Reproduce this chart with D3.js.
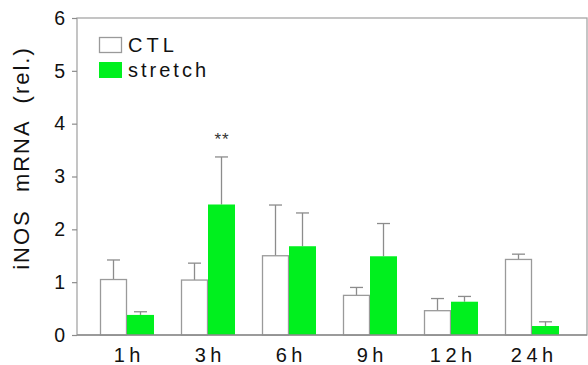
<!DOCTYPE html>
<html>
<head>
<meta charset="utf-8">
<script src="https://cdn.jsdelivr.net/npm/d3@7"></script>
<style>
  html, body { margin: 0; padding: 0; background: #fff; }
  svg { display: block; font-family: "Liberation Sans", Arial, sans-serif; }
</style>
</head>
<body>
<svg id="chart" width="588" height="365"></svg>
<script>
// Time points after stretch onset
const timepoints = ["1h", "3h", "6h", "9h", "12h", "24h"];
const seriesNames = ["CTL", "stretch"];
// Relative iNOS mRNA (mean) and upper error (mean + SE)
const ctlMean = [1.05, 1.04, 1.50, 0.75, 0.46, 1.43];
const ctlUpper = [1.42, 1.36, 2.46, 0.90, 0.69, 1.53];
const stretchMean = [0.38, 2.47, 1.68, 1.49, 0.63, 0.17];
const stretchUpper = [0.44, 3.37, 2.31, 2.11, 0.73, 0.25];
const yTicks = [0, 1, 2, 3, 4, 5, 6];
const significance = [
  { time: "3h", series: "stretch", label: "**" }
];

const colors = { CTL: "#ffffff", stretch: "#00f01e" };
const grey = "#8c8c8c";

const svg = d3.select("#chart");
const plot = { left: 77, right: 587, top: 18, bottom: 335 };

const y = d3.scaleLinear().domain([0, 6]).range([plot.bottom, plot.top]);
const x = d3.scaleBand().domain(timepoints)
  .range([86.5, 572.5]).paddingInner(1 / 3).paddingOuter(1 / 6);
const xSub = d3.scaleBand().domain(seriesNames).range([0, x.bandwidth()]);

const rows = [];
timepoints.forEach((t, i) => {
  rows.push({ time: t, series: "CTL", mean: ctlMean[i], upper: ctlUpper[i] });
  rows.push({ time: t, series: "stretch", mean: stretchMean[i], upper: stretchUpper[i] });
});

// Frame
svg.append("rect")
  .attr("x", plot.left).attr("y", plot.top)
  .attr("width", plot.right - plot.left).attr("height", plot.bottom - plot.top)
  .attr("fill", "none").attr("stroke", "#a6a6a6").attr("stroke-width", 1.3);

// Error bars (upper only), drawn behind the bars
const capHalf = 6.5;
const err = svg.append("g").attr("stroke", grey).attr("stroke-width", 1.3);
rows.forEach(d => {
  const cx = x(d.time) + xSub(d.series) + xSub.bandwidth() / 2;
  err.append("line").attr("x1", cx).attr("x2", cx)
    .attr("y1", y(d.mean)).attr("y2", y(d.upper));
  err.append("line").attr("x1", cx - capHalf).attr("x2", cx + capHalf)
    .attr("y1", y(d.upper)).attr("y2", y(d.upper));
});

// Bars
svg.append("g").selectAll("rect").data(rows).join("rect")
  .attr("x", d => x(d.time) + xSub(d.series) + (d.series === "CTL" ? 0.5 : 0))
  .attr("y", d => y(d.mean))
  .attr("width", d => xSub.bandwidth() - (d.series === "CTL" ? 1 : 0))
  .attr("height", d => y(0) - y(d.mean))
  .attr("fill", d => colors[d.series])
  .attr("stroke", d => d.series === "CTL" ? "#9a9a9a" : "none")
  .attr("stroke-width", 1.3);

// Bottom baseline redrawn over bars
svg.append("line")
  .attr("x1", plot.left).attr("x2", plot.right)
  .attr("y1", y(0)).attr("y2", y(0))
  .attr("stroke", grey).attr("stroke-width", 1.3);

// Significance markers
significance.forEach(s => {
  const i = timepoints.indexOf(s.time);
  const up = s.series === "CTL" ? ctlUpper[i] : stretchUpper[i];
  svg.append("text")
    .attr("x", x(s.time) + xSub(s.series) + xSub.bandwidth() / 2)
    .attr("y", y(up) - 12)
    .attr("text-anchor", "middle")
    .attr("font-size", 17).attr("fill", "#333")
    .attr("letter-spacing", 1).attr("dx", 0.5)
    .text(s.label);
});

// Y axis
const yAxis = svg.append("g")
  .attr("transform", `translate(${plot.left},0)`)
  .call(d3.axisLeft(y).tickValues(yTicks).tickFormat(d3.format("d")).tickSize(5).tickPadding(7));
yAxis.select(".domain").remove();
yAxis.selectAll(".tick line").attr("stroke", grey).attr("stroke-width", 1.2);
yAxis.selectAll(".tick text")
  .attr("font-size", 19.5).attr("fill", "#111")
  .attr("font-family", "'Liberation Sans', Arial, sans-serif");

// X axis labels
const xAxis = svg.append("g")
  .attr("transform", `translate(0,${plot.bottom})`)
  .call(d3.axisBottom(x).tickSize(0).tickPadding(13));
xAxis.select(".domain").remove();
xAxis.selectAll(".tick text")
  .attr("font-size", 20).attr("fill", "#111")
  .attr("letter-spacing", 4.5).attr("dx", 2.25)
  .attr("font-family", "'Liberation Sans', Arial, sans-serif");

// Y axis title
svg.append("text")
  .attr("transform", "translate(29,158) rotate(-90)")
  .attr("text-anchor", "middle")
  .attr("font-size", 22).attr("fill", "#111")
  .attr("letter-spacing", 2).attr("word-spacing", 9)
  .text("iNOS mRNA (rel.)");

// Legend
const legend = svg.append("g").attr("transform", "translate(99,37)");
seriesNames.forEach((name, i) => {
  const g = legend.append("g").attr("transform", `translate(0,${i * 25})`);
  g.append("rect")
    .attr("x", name === "CTL" ? 0.5 : 0).attr("y", name === "CTL" ? 0.5 : 0)
    .attr("width", name === "CTL" ? 22 : 23).attr("height", name === "CTL" ? 15 : 16)
    .attr("fill", colors[name])
    .attr("stroke", name === "CTL" ? "#9a9a9a" : "none").attr("stroke-width", 1.3);
  g.append("text")
    .attr("x", 29).attr("y", 15)
    .attr("font-size", 20).attr("fill", "#111")
    .attr("letter-spacing", name === "CTL" ? 4 : 3)
    .text(name);
});
</script>
</body>
</html>
